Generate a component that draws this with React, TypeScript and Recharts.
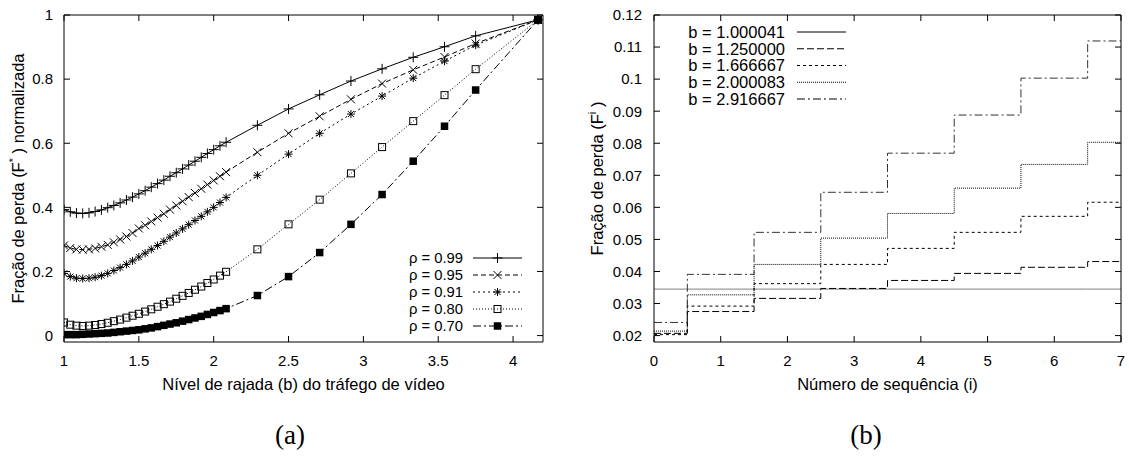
import React from 'react';
import { LineChart, Line, XAxis, YAxis, Legend, Label } from 'recharts';

// (a) loss fraction vs burst level, one curve per load rho
const burstLevels = [
    1.0, 1.042, 1.083, 1.125, 1.167, 1.208, 1.25, 1.292, 1.333, 1.375, 1.417, 1.458, 1.5,
    1.542, 1.583, 1.625, 1.667, 1.708, 1.75, 1.792, 1.833, 1.875, 1.917, 1.958, 2.0, 2.042, 2.083,
    2.292, 2.5, 2.708, 2.917, 3.125, 3.333, 3.542, 3.75, 4.167,
];
const rho99 = [
    0.393, 0.386, 0.382, 0.381, 0.383, 0.387, 0.392, 0.399, 0.406, 0.414, 0.423, 0.432, 0.442,
    0.452, 0.463, 0.474, 0.485, 0.497, 0.508, 0.52, 0.532, 0.544, 0.556, 0.568, 0.58, 0.592, 0.603,
    0.656, 0.707, 0.751, 0.794, 0.832, 0.868, 0.901, 0.935, 0.985,
];
const rho95 = [
    0.281, 0.273, 0.269, 0.268, 0.269, 0.272, 0.277, 0.283, 0.291, 0.3, 0.309, 0.32, 0.334,
    0.344, 0.356, 0.368, 0.38, 0.393, 0.406, 0.419, 0.432, 0.445, 0.458, 0.471, 0.484, 0.497, 0.51,
    0.572, 0.631, 0.684, 0.737, 0.786, 0.829, 0.869, 0.911, 0.985,
];
const rho91 = [
    0.194, 0.184, 0.179, 0.178, 0.179, 0.182, 0.187, 0.194, 0.203, 0.212, 0.222, 0.233, 0.245,
    0.257, 0.269, 0.281, 0.294, 0.307, 0.32, 0.333, 0.346, 0.359, 0.372, 0.386, 0.4, 0.415, 0.431,
    0.5, 0.566, 0.631, 0.691, 0.747, 0.803, 0.856, 0.906, 0.985,
];
const rho80 = [
    0.041, 0.034, 0.031, 0.03, 0.031, 0.033, 0.036, 0.04, 0.045, 0.05, 0.056, 0.062, 0.068,
    0.075, 0.082, 0.09, 0.098, 0.106, 0.115, 0.124, 0.133, 0.143, 0.153, 0.164, 0.175, 0.187, 0.199,
    0.269, 0.347, 0.424, 0.506, 0.588, 0.669, 0.75, 0.831, 0.985,
];
const rho70 = [
    0.003, 0.003, 0.003, 0.004, 0.005, 0.006, 0.007, 0.008, 0.01, 0.012, 0.014, 0.016, 0.018,
    0.021, 0.024, 0.028, 0.032, 0.036, 0.04, 0.045, 0.05, 0.055, 0.06, 0.066, 0.072, 0.078, 0.084,
    0.125, 0.184, 0.259, 0.347, 0.44, 0.544, 0.653, 0.766, 0.985,
];
const rhoLabels = ['ρ = 0.99', 'ρ = 0.95', 'ρ = 0.91', 'ρ = 0.80', 'ρ = 0.70'];
const burstTicks = [1, 1.5, 2, 2.5, 3, 3.5, 4];
const normTicks = [0, 0.2, 0.4, 0.6, 0.8, 1];

// (b) loss fraction per sequence number, one curve per b
const seqNumbers = [0, 1, 2, 3, 4, 5, 6, 7];
const lossB1000041 = [0.0345, 0.0345, 0.0345, 0.0345, 0.0345, 0.0345, 0.0345, 0.0345];
const lossB1250000 = [0.0207, 0.0275, 0.0316, 0.0347, 0.0372, 0.0394, 0.0413, 0.0431];
const lossB1666667 = [0.0203, 0.0292, 0.0362, 0.0422, 0.0472, 0.0522, 0.0572, 0.0616];
const lossB2000083 = [0.0214, 0.0327, 0.0422, 0.0504, 0.0581, 0.066, 0.0734, 0.0803];
const lossB2916667 = [0.0241, 0.0391, 0.0522, 0.0647, 0.0769, 0.0888, 0.1003, 0.1119];
const bLabels = ['b = 1.000041', 'b = 1.250000', 'b = 1.666667', 'b = 2.000083', 'b = 2.916667'];
const seqTicks = [0, 1, 2, 3, 4, 5, 6, 7];
const lossTicks = [0.02, 0.03, 0.04, 0.05, 0.06, 0.07, 0.08, 0.09, 0.1, 0.11, 0.12];

const FONT = '"Liberation Sans", Arial, sans-serif';

type Shape = 'plus' | 'cross' | 'star' | 'box' | 'boxFilled';

const rhoSeries: { key: string; name: string; values: number[]; dash?: string; shape: Shape }[] = [
    { key: 'r99', name: rhoLabels[0], values: rho99, dash: undefined, shape: 'plus' },
    { key: 'r95', name: rhoLabels[1], values: rho95, dash: '5 3', shape: 'cross' },
    { key: 'r91', name: rhoLabels[2], values: rho91, dash: '2 3', shape: 'star' },
    { key: 'r80', name: rhoLabels[3], values: rho80, dash: '1 2', shape: 'box' },
    { key: 'r70', name: rhoLabels[4], values: rho70, dash: '8 3 2 3', shape: 'boxFilled' },
];

const bSeries: { key: string; name: string; values: number[]; dash?: string; color: string }[] = [
    { key: 's1', name: bLabels[0], values: lossB1000041, dash: undefined, color: '#808080' },
    { key: 's2', name: bLabels[1], values: lossB1250000, dash: '7 3', color: '#000' },
    { key: 's3', name: bLabels[2], values: lossB1666667, dash: '3 3', color: '#000' },
    { key: 's4', name: bLabels[3], values: lossB2000083, dash: '1 1', color: '#000' },
    { key: 's5', name: bLabels[4], values: lossB2916667, dash: '8 3 2 3', color: '#333' },
];

const rhoRows = burstLevels.map((b, i) => {
    const row: Record<string, number> = { b };
    rhoSeries.forEach(s => { row[s.key] = s.values[i]; });
    return row;
});

const seqRows = seqNumbers.map((n, i) => {
    const row: Record<string, number> = { i: n };
    bSeries.forEach(s => { row[s.key] = s.values[i]; });
    return row;
});

const Marker = ({ shape, cx, cy }: { shape: Shape; cx: number; cy: number }) => {
    if (shape === 'plus') {
        return <path d={`M${cx - 5},${cy}H${cx + 5}M${cx},${cy - 5}V${cy + 5}`} stroke="#000" fill="none" />;
    }
    if (shape === 'cross') {
        return <path d={`M${cx - 4},${cy - 4}L${cx + 4},${cy + 4}M${cx - 4},${cy + 4}L${cx + 4},${cy - 4}`} stroke="#000" fill="none" />;
    }
    if (shape === 'star') {
        return (
            <path
                d={`M${cx - 4},${cy}H${cx + 4}M${cx},${cy - 4}V${cy + 4}M${cx - 3},${cy - 3}L${cx + 3},${cy + 3}M${cx - 3},${cy + 3}L${cx + 3},${cy - 3}`}
                stroke="#000" fill="none"
            />
        );
    }
    if (shape === 'box') {
        return <rect x={cx - 3.5} y={cy - 3.5} width={7} height={7} stroke="#000" fill="none" />;
    }
    return <rect x={cx - 3.75} y={cy - 3.75} width={7.5} height={7.5} fill="#000" />;
};

const RhoLegend = () => (
    <svg width={160} height={104} style={{ display: 'block' }}>
        {rhoSeries.map((s, k) => {
            const y = 16 + k * 17;
            return (
                <g key={s.key}>
                    <text x={83} y={y} dy="0.35em" textAnchor="end" fontSize={14.8} fontFamily={FONT} fill="#000">{s.name}</text>
                    <line x1={93} x2={142} y1={y} y2={y} stroke="#000" strokeDasharray={s.dash} />
                    <Marker shape={s.shape} cx={117.5} cy={y} />
                </g>
            );
        })}
    </svg>
);

const BLegend = () => (
    <svg width={180} height={90} style={{ display: 'block' }}>
        {bSeries.map((s, k) => {
            const y = 10 + k * 16.75;
            return (
                <g key={s.key}>
                    <text x={105} y={y} dy="0.35em" textAnchor="end" fontSize={16.5} fontFamily={FONT} fill="#000">{s.name}</text>
                    <line x1={117} x2={166} y1={y} y2={y} stroke="#000" strokeDasharray={s.dash} />
                </g>
            );
        })}
    </svg>
);

const YTitleA = (props: any) => {
    const vb = props.viewBox || {};
    const x = vb.x + 18;
    const y = vb.y + vb.height / 2;
    return (
        <text x={x} y={y} transform={`rotate(-90 ${x} ${y})`} textAnchor="middle" dy="0.35em" fontSize={16.5} fontFamily={FONT} fill="#000">
            <tspan>Fração de perda (F</tspan>
            <tspan dy={-7} fontSize={11}>*</tspan>
            <tspan dy={7}> ) normalizada</tspan>
        </text>
    );
};

const YTitleB = (props: any) => {
    const vb = props.viewBox || {};
    const x = vb.x + 37;
    const y = vb.y + vb.height / 2;
    return (
        <text x={x} y={y} transform={`rotate(-90 ${x} ${y})`} textAnchor="middle" dy="0.35em" fontSize={16.5} fontFamily={FONT} fill="#000">
            <tspan>Fração de perda (F</tspan>
            <tspan dy={-7} fontSize={11}>i</tspan>
            <tspan dy={7}> )</tspan>
        </text>
    );
};

const tickStyle = { fill: '#000', fontSize: 15, fontFamily: FONT };
const blank = () => '';

const App: React.FC = () => {
    return (
        <div style={{ position: 'absolute', left: 0, top: 0, width: 1129, height: 463, background: '#fff', fontFamily: FONT }}>
            <div style={{ position: 'absolute', left: 0, top: 0 }}>
                <LineChart width={560} height={400} data={rhoRows} margin={{ top: 14, right: 16, bottom: 28, left: 0 }}>
                    <XAxis
                        xAxisId="bottom" dataKey="b" type="number" domain={[1, 4.2]} ticks={burstTicks} allowDataOverflow
                        height={30} tickSize={-6} tickMargin={19} tick={tickStyle}
                        axisLine={{ stroke: '#000' }} tickLine={{ stroke: '#000' }}
                    >
                        <Label value="Nível de rajada (b) do tráfego de vídeo" position="bottom" offset={6} fontSize={16.5} fontFamily={FONT} fill="#000" />
                    </XAxis>
                    <XAxis
                        xAxisId="top" orientation="top" dataKey="b" type="number" domain={[1, 4.2]} ticks={burstTicks} allowDataOverflow
                        height={1} tickSize={-6} tickFormatter={blank}
                        axisLine={{ stroke: '#000' }} tickLine={{ stroke: '#000' }}
                    />
                    <YAxis
                        yAxisId="left" type="number" domain={[-0.02, 1]} ticks={normTicks} allowDataOverflow
                        width={64} tickSize={-6} tickMargin={17} tick={tickStyle}
                        axisLine={{ stroke: '#000' }} tickLine={{ stroke: '#000' }}
                    >
                        <Label content={YTitleA} />
                    </YAxis>
                    <YAxis
                        yAxisId="right" orientation="right" type="number" domain={[-0.02, 1]} ticks={normTicks} allowDataOverflow
                        width={1} tickSize={-6} tickFormatter={blank}
                        axisLine={{ stroke: '#000' }} tickLine={{ stroke: '#000' }}
                    />
                    {rhoSeries.map(s => (
                        <Line
                            key={s.key}
                            xAxisId="bottom"
                            yAxisId="left"
                            type="linear"
                            dataKey={s.key}
                            name={s.name}
                            stroke="#000"
                            strokeWidth={1}
                            strokeDasharray={s.dash}
                            isAnimationActive={false}
                            activeDot={false}
                            dot={(p: any) => <Marker key={`${s.key}-${p.index}`} shape={s.shape} cx={p.cx} cy={p.cy} />}
                        />
                    ))}
                    <Legend
                        layout="vertical" align="center" verticalAlign="middle"
                        content={() => <RhoLegend />}
                        wrapperStyle={{ left: 380, top: 242, width: 160, height: 104 }}
                    />
                </LineChart>
            </div>
            <div style={{ position: 'absolute', left: 560, top: 0 }}>
                <LineChart width={569} height={400} data={seqRows} margin={{ top: 14, right: 7, bottom: 28, left: 0 }}>
                    <XAxis
                        xAxisId="bottom" dataKey="i" type="number" domain={[0, 7]} ticks={seqTicks} allowDataOverflow
                        height={30} tickSize={-6} tickMargin={19} tick={tickStyle}
                        axisLine={{ stroke: '#000' }} tickLine={{ stroke: '#000' }}
                    >
                        <Label value="Número de sequência (i)" position="bottom" offset={6} fontSize={16.5} fontFamily={FONT} fill="#000" />
                    </XAxis>
                    <XAxis
                        xAxisId="top" orientation="top" dataKey="i" type="number" domain={[0, 7]} ticks={seqTicks} allowDataOverflow
                        height={1} tickSize={-6} tickFormatter={blank}
                        axisLine={{ stroke: '#000' }} tickLine={{ stroke: '#000' }}
                    />
                    <YAxis
                        yAxisId="left" type="number" domain={[0.018, 0.12]} ticks={lossTicks} allowDataOverflow
                        width={94} tickSize={-6} tickMargin={18} tick={tickStyle}
                        axisLine={{ stroke: '#000' }} tickLine={{ stroke: '#000' }}
                    >
                        <Label content={YTitleB} />
                    </YAxis>
                    <YAxis
                        yAxisId="right" orientation="right" type="number" domain={[0.018, 0.12]} ticks={lossTicks} allowDataOverflow
                        width={1} tickSize={-6} tickFormatter={blank}
                        axisLine={{ stroke: '#000' }} tickLine={{ stroke: '#000' }}
                    />
                    {bSeries.map(s => (
                        <Line
                            key={s.key}
                            xAxisId="bottom"
                            yAxisId="left"
                            type="step"
                            dataKey={s.key}
                            name={s.name}
                            stroke={s.color}
                            strokeWidth={1}
                            strokeDasharray={s.dash}
                            isAnimationActive={false}
                            activeDot={false}
                            dot={false}
                        />
                    ))}
                    <Legend
                        layout="vertical" align="center" verticalAlign="middle"
                        content={() => <BLegend />}
                        wrapperStyle={{ left: 120, top: 22, width: 180, height: 90 }}
                    />
                </LineChart>
            </div>
            <div style={{ position: 'absolute', left: 250, top: 420, width: 80, textAlign: 'center', fontFamily: '"Liberation Serif", "DejaVu Serif", serif', fontSize: 27 }}>(a)</div>
            <div style={{ position: 'absolute', left: 826, top: 420, width: 80, textAlign: 'center', fontFamily: '"Liberation Serif", "DejaVu Serif", serif', fontSize: 27 }}>(b)</div>
        </div>
    );
};

export default App;
